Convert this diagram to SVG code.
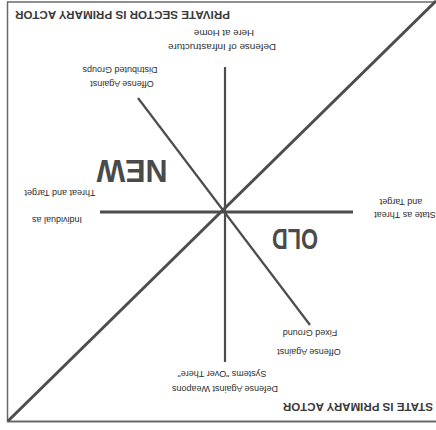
<svg xmlns="http://www.w3.org/2000/svg" width="436" height="430" viewBox="0 0 436 430">
<style>
.bg{fill:#ffffff}
.frame{stroke:#6a6a6a;stroke-width:1.5;fill:none}
.ln{stroke:#4d4d4d;stroke-linecap:butt;fill:none}
.t{font-family:"Liberation Sans",Arial,sans-serif;font-size:9px;fill:#2e2e2e;text-anchor:middle}
.h{font-family:"Liberation Sans",Arial,sans-serif;font-weight:bold;font-size:11px;fill:#3a3a3a;text-anchor:middle}
.big{font-family:"Liberation Sans",Arial,sans-serif;font-weight:bold;fill:#4a4a4a;text-anchor:middle}
</style>
<rect class="bg" x="0" y="0" width="436" height="430"/>
<g id="frame">
<line class="frame" x1="7.5" y1="2" x2="7.5" y2="422"/>
<line class="frame" x1="7" y1="2" x2="436" y2="2"/>
<line class="frame" x1="7" y1="421.5" x2="436" y2="421.5" style="stroke-width:2"/>
</g>
<g id="connectors">
<line class="ln" x1="8" y1="421" x2="436" y2="1" style="stroke-width:3"/>
<line class="ln" x1="100" y1="212" x2="353" y2="212" style="stroke-width:3"/>
<line class="ln" x1="225" y1="67" x2="225" y2="362" style="stroke-width:2.2"/>
<line class="ln" x1="138" y1="98" x2="310" y2="325" style="stroke-width:2.2"/>
</g>
<g id="private-sector">
<text class="h" x="122.5" y="19" transform="rotate(180 122.5 15)" textLength="215" lengthAdjust="spacingAndGlyphs">PRIVATE SECTOR IS PRIMARY ACTOR</text>
</g>
<g id="state-actor">
<text class="h" x="358" y="411" transform="rotate(180 358 407)" textLength="150" lengthAdjust="spacingAndGlyphs">STATE IS PRIMARY ACTOR</text>
</g>
<g id="new">
<text class="big" x="132" y="182.5" style="font-size:31px" transform="rotate(180 132 171)" textLength="71" lengthAdjust="spacingAndGlyphs">NEW</text>
</g>
<g id="old">
<text class="big" x="295" y="251" style="font-size:30px" transform="rotate(180 295 240)" textLength="46" lengthAdjust="spacingAndGlyphs">OLD</text>
</g>
<g id="defense-infrastructure">
<text class="t" x="222" y="50.5" transform="rotate(180 222 47)" textLength="108" lengthAdjust="spacingAndGlyphs">Defense of Infrastructure</text>
<text class="t" x="224" y="36.5" transform="rotate(180 224 33)" textLength="60" lengthAdjust="spacingAndGlyphs">Here at Home</text>
</g>
<g id="offense-distributed">
<text class="t" x="122" y="87.5" transform="rotate(180 122 84)">Offense Against</text>
<text class="t" x="120" y="73.5" transform="rotate(180 120 70)">Distributed Groups</text>
</g>
<g id="individual">
<text class="t" x="57" y="223.5" transform="rotate(180 57 220)">Individual as</text>
<text class="t" x="60" y="196.5" transform="rotate(180 60 193)">Threat and Target</text>
</g>
<g id="state-threat">
<text class="t" x="405" y="218.5" transform="rotate(180 405 215)">State as Threat</text>
<text class="t" x="401" y="205.5" transform="rotate(180 401 202)">and Target</text>
</g>
<g id="offense-fixed">
<text class="t" x="309" y="355.5" transform="rotate(180 309 352)">Offense Against</text>
<text class="t" x="310" y="336.5" transform="rotate(180 310 333)">Fixed Ground</text>
</g>
<g id="defense-weapons">
<text class="t" x="225" y="392.5" transform="rotate(180 225 389)">Defense Against Weapons</text>
<text class="t" x="222" y="377.5" transform="rotate(180 222 374)">Systems "Over There"</text>
</g>
</svg>
